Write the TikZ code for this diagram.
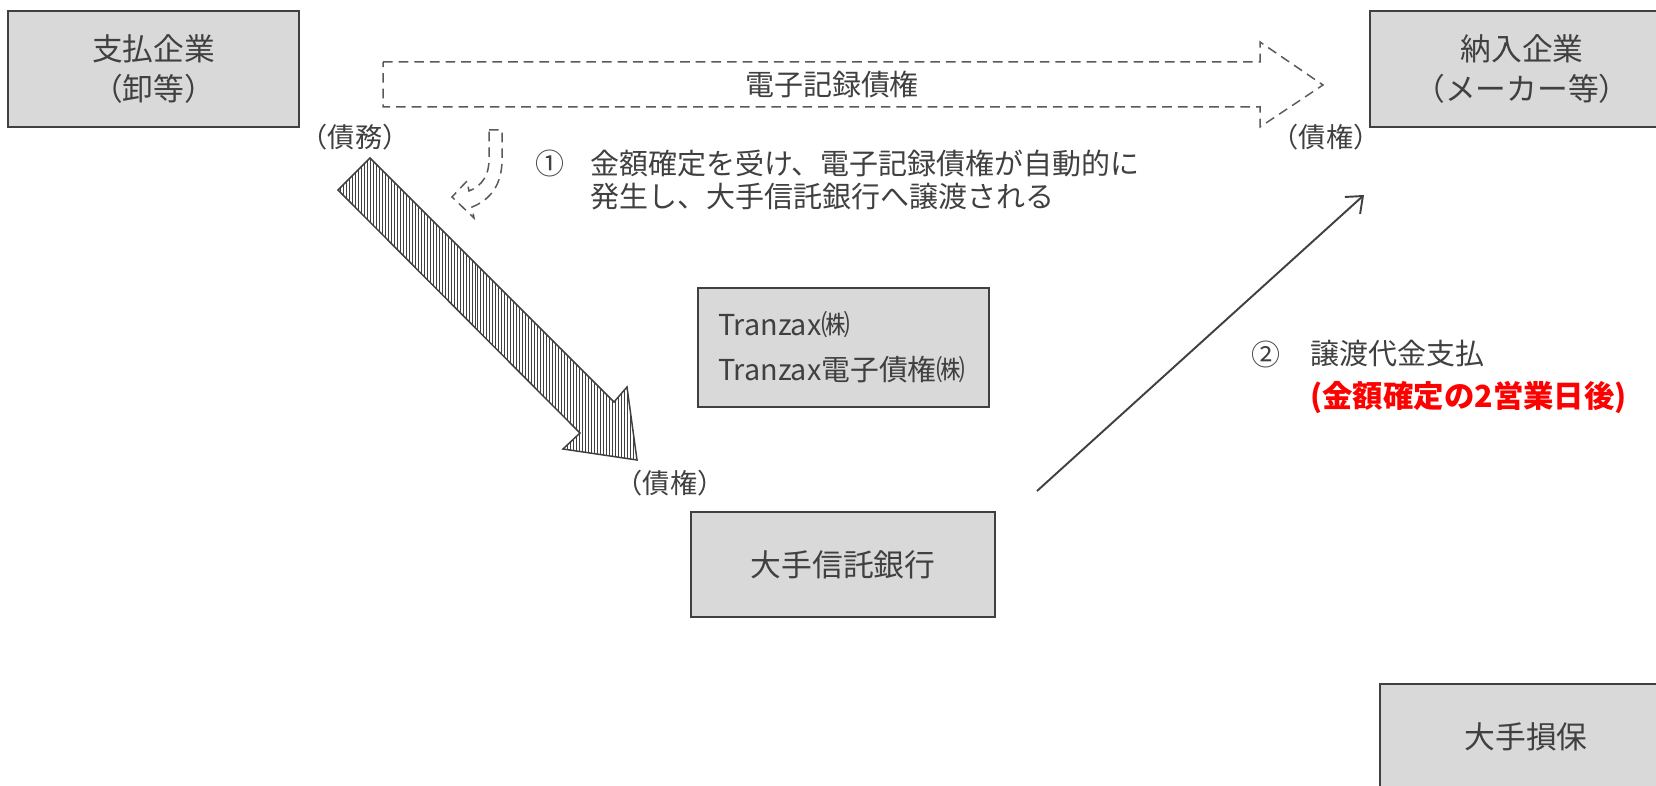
\documentclass[tikz,border=0pt]{standalone}
\usepackage{fontspec}
\setmainfont{Noto Sans CJK JP}
\usetikzlibrary{arrows.meta, positioning, patterns.meta}
\definecolor{boxgray}{HTML}{D9D9D9}
\definecolor{inkgray}{HTML}{404040}
\definecolor{linegray}{HTML}{595959}
\tikzstyle{party} = [rectangle, draw=inkgray, line width=0.9pt, fill=boxgray, text=inkgray, align=center, font=\fontsize{17.5}{22.5}\selectfont]
\tikzstyle{note} = [text=inkgray, inner sep=0pt, font=\fontsize{16.5}{19.3}\selectfont]
\tikzstyle{tag} = [text=inkgray, inner sep=0pt, font=\fontsize{15.5}{18}\selectfont]
\tikzstyle{arrow} = [draw=inkgray, line width=1.1pt, -{Straight Barb[length=8pt, width=13pt]}]
\tikzstyle{flow} = [draw=linegray, line width=0.85pt, dash pattern=on 5.5pt off 3.4pt]
\tikzstyle{hatched} = [draw=inkgray, line width=0.85pt, pattern={Lines[angle=90, distance=1.7pt, line width=0.45pt]}, pattern color=inkgray]

\begin{document}
\begin{tikzpicture}[x=0.02cm, y=-0.02cm]
\useasboundingbox (0,0) rectangle (1656,786);
\clip (0,0) rectangle (1656,786);

% Boxes
\node (payer) [party, minimum width=5.82cm, minimum height=2.32cm] at (153.5,69) {支払企業\\（卸等）};
\node (supplier) [party, minimum width=6.08cm, minimum height=2.32cm] at (1522,69) {納入企業\\（メーカー等）};
\node (tranzax) [party, minimum height=2.38cm, text width=5.02cm, inner xsep=0.4cm, align=left, font=\fontsize{16.4}{25.5}\selectfont] at (843.5,347.5) {Tranzax㈱\\Tranzax電子債権㈱};
\node (bank) [party, minimum width=6.08cm, minimum height=2.1cm] at (843,564.5) {大手信託銀行};
\node (insurer) [party, minimum width=5.84cm, minimum height=2.12cm] at (1526,737) {大手損保};

% Labels
\node (debt) [tag] at (355,137) {（債務）};
\node (claimSupplier) [tag] at (1326,137) {（債権）};
\node (claimBank) [tag] at (670,483) {（債権）};
\node (recordLabel) [note] at (832,85) {電子記録債権};
\node (step1) [note] at (550,163) {①};
\node (step1text) [note, anchor=west, align=left] at (590,180) {金額確定を受け、電子記録債権が自動的に\\発生し、大手信託銀行へ譲渡される};
\node (step2) [note] at (1266,354) {②};
\node (step2text) [note, anchor=west] at (1310,354) {譲渡代金支払};
\node (step2when) [note, anchor=west, text=red, font=\fontsize{17.3}{20}\selectfont\bfseries] at (1310,398) {(金額確定の2営業日後)};

% Block arrows
\draw [flow] (383,62) -- (1260,62) -- (1260,42) -- (1323,85) -- (1260,127) -- (1260,107) -- (383,107) -- cycle;
\draw [hatched] (370,158) -- (614,402) -- (627,387) -- (637,460) -- (563,449) -- (580,433) -- (338,190) -- cycle;
\draw [flow] (489,130) -- (502,130) -- (502,160) .. controls (502,185) and (490,200) .. (472,207) -- (474,218) -- (452,197) -- (467,181) -- (469,191) .. controls (482,186) and (489,175) .. (489,160) -- cycle;

% Payment arrow
\coordinate (payStart) at (1037,491);
\coordinate (payEnd) at (1364,195);
\draw [arrow] (payStart) -- (payEnd);

\end{tikzpicture}
\end{document}
